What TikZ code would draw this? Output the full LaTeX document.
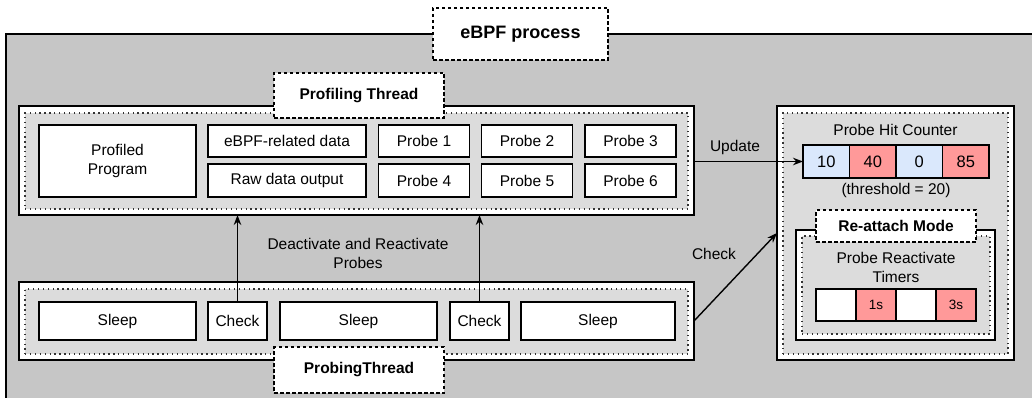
\documentclass[tikz,border=0pt]{standalone}
\usepackage{fontspec}
\setmainfont{Liberation Sans}
\usetikzlibrary{arrows.meta}
\definecolor{procgray}{HTML}{C6C6C6}
\definecolor{zonegray}{HTML}{DCDCDC}
\definecolor{cellblue}{HTML}{DAE8FC}
\definecolor{cellred}{HTML}{FF9999}
\tikzset{
  base/.style={inner sep=0pt, outer sep=0pt, rectangle},
  panel/.style={base, draw, fill=white, line width=1.6pt},
  zone/.style={base, draw=black!80, fill=zonegray, line width=1.3pt, dash pattern=on 1.3pt off 3.6pt},
  tag/.style={base, draw, fill=white, line width=1.4pt, dash pattern=on 3.5pt off 2.5pt,
    font=\bfseries\fontsize{15.5}{18}\selectfont},
  item/.style={base, draw, fill=white, line width=1.6pt, align=center,
    font=\fontsize{15.5}{19}\selectfont},
  cell/.style={item, minimum width=46.5pt, minimum height=33pt, font=\fontsize{16.5}{19}\selectfont},
  timer/.style={item, minimum width=40pt, minimum height=32pt, font=\fontsize{13.5}{15}\selectfont},
  txt/.style={base, align=center, font=\fontsize{15.5}{19}\selectfont},
  flow/.style={line width=1.4pt, -{Stealth[length=10pt,width=7.5pt]}},
}
\begin{document}
\begin{tikzpicture}[x=1pt,y=-1pt]
\useasboundingbox (0,0) rectangle (1032,398);
\clip (0,0) rectangle (1032,398);

% eBPF process container
\node[base, draw, fill=procgray, line width=1.6pt, minimum width=1050pt, minimum height=390pt, anchor=north west] (proc) at (6,34) {};
\node[tag, minimum width=175pt, minimum height=52pt, font=\bfseries\fontsize{18}{21}\selectfont] (proctag) at (520.5,34) {eBPF process};

% Profiling thread
\node[panel, minimum width=675pt, minimum height=109pt] (prof) at (356.5,160.5) {};
\node[zone, minimum width=663pt, minimum height=96pt] (profzone) at (356.5,161) {};
\node[tag, minimum width=170pt, minimum height=45pt] (proftag) at (359,95.5) {Profiling Thread};

\node[item, minimum width=157pt, minimum height=72pt] (program) at (117.5,161) {Profiled\\Program};
\node[item, minimum width=158pt, minimum height=32pt] (ebpfdata) at (287,141) {eBPF-related data};
\node[item, minimum width=158pt, minimum height=33pt] (rawdata) at (287,180.5) {Raw data output};
\node[item, minimum width=91pt, minimum height=32pt] (p1) at (424,141) {Probe 1};
\node[item, minimum width=91pt, minimum height=32pt] (p2) at (527,141) {Probe 2};
\node[item, minimum width=91pt, minimum height=32pt] (p3) at (630.5,141) {Probe 3};
\node[item, minimum width=91pt, minimum height=33pt] (p4) at (424,180.5) {Probe 4};
\node[item, minimum width=91pt, minimum height=33pt] (p5) at (527,180.5) {Probe 5};
\node[item, minimum width=91pt, minimum height=33pt] (p6) at (630.5,180.5) {Probe 6};

% Probing thread
\node[panel, minimum width=675pt, minimum height=78pt] (probing) at (356.5,321) {};
\node[zone, minimum width=663pt, minimum height=65pt] (probzone) at (356.5,321.5) {};
\node[tag, minimum width=170pt, minimum height=46pt] (probtag) at (359,370) {ProbingThread};

\node[item, minimum width=157pt, minimum height=38pt] (sleepa) at (117.5,321) {Sleep};
\node[item, minimum width=59pt, minimum height=38pt] (checka) at (237.5,321) {Check};
\node[item, minimum width=157pt, minimum height=38pt] (sleepb) at (358.5,321) {Sleep};
\node[item, minimum width=59pt, minimum height=38pt] (checkb) at (479.5,321) {Check};
\node[item, minimum width=154pt, minimum height=38pt] (sleepc) at (598,321) {Sleep};

% Counter and re-attach panel
\node[panel, minimum width=237pt, minimum height=254pt] (counter) at (895.5,233) {};
\node[zone, minimum width=225pt, minimum height=241pt] (counterzone) at (895.5,233.5) {};
\node[txt] (hitlabel) at (895.5,130) {Probe Hit Counter};
\node[cell, fill=cellblue] (c1) at (826.25,161.5) {10};
\node[cell, fill=cellred]  (c2) at (872.75,161.5) {40};
\node[cell, fill=cellblue] (c3) at (919.25,161.5) {0};
\node[cell, fill=cellred]  (c4) at (965.75,161.5) {85};
\node[txt] (threshold) at (896,190) {(threshold = 20)};

\node[panel, minimum width=199pt, minimum height=110pt] (reattach) at (895.5,285) {};
\node[zone, minimum width=188pt, minimum height=98pt] (reattachzone) at (896,285) {};
\node[tag, minimum width=160pt, minimum height=32pt] (reattachtag) at (896,226) {Re-attach Mode};
\node[txt] (timerlabel) at (896,267.5) {Probe Reactivate\\Timers};
\node[timer] (t1) at (836,305) {};
\node[timer, fill=cellred] (t2) at (876,305) {1s};
\node[timer] (t3) at (916,305) {};
\node[timer, fill=cellred] (t4) at (956,305) {3s};

% Connectors
\draw[flow] (prof.east |- c1.west) -- (c1.west);
\node[txt] (updatelbl) at (735,147) {Update};

\draw[flow] (probing.east) -- (counter.west);
\node[txt] (checklbl) at (714,254) {Check};

\draw[flow] (checka.north) -- (checka.north |- prof.south);
\draw[flow] (checkb.north) -- (checkb.north |- prof.south);
\node[txt] (deact) at (358,253.5) {Deactivate and Reactivate\\Probes};
\end{tikzpicture}
\end{document}
